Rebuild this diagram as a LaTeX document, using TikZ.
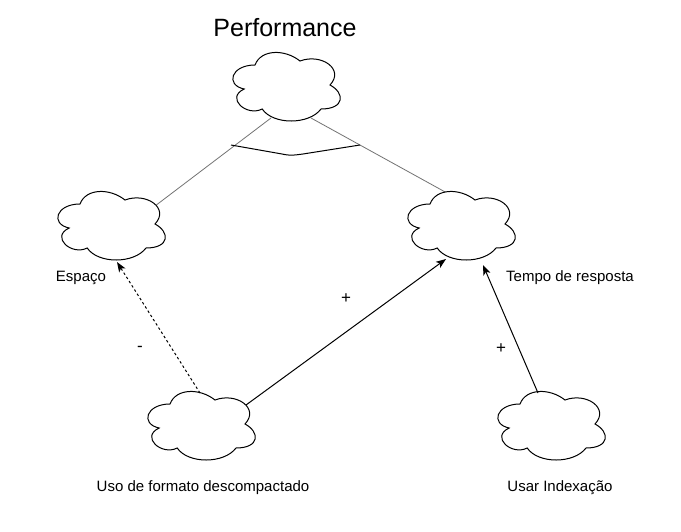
\documentclass[tikz,border=0pt]{standalone}
\usepackage{fontspec}
\setmainfont{Liberation Sans}
\usetikzlibrary{arrows.meta,calc}
\tikzset{
  cloudcell/.style={rectangle, minimum width=120pt, minimum height=80pt, inner sep=0pt},
  cloudline/.style={draw=black, line width=1pt, fill=white},
  lbl/.style={inner sep=0pt, font=\fontsize{15}{18}\selectfont, text=black},
  sgn/.style={inner sep=0pt, font=\fontsize{17}{20}\selectfont, text=black},
  title/.style={inner sep=0pt, font=\fontsize{25}{30}\selectfont, text=black},
  link/.style={draw=gray!90!black, line width=0.8pt},
  arr/.style={draw=black, line width=1pt, -{Stealth[length=10pt,width=7.5pt,inset=2.5pt]}},
  darr/.style={arr, dash pattern=on 2.5pt off 2.5pt},
}
\newcommand{\mycloud}[3]{%
  \begin{scope}[shift={(#2,#3)}, x=120pt, y=-80pt]
    \path[cloudline] (0.25,0.25) .. controls (0.05,0.25) and (0,0.5) .. (0.16,0.55)
      .. controls (0,0.66) and (0.18,0.9) .. (0.31,0.8)
      .. controls (0.4,1) and (0.7,1) .. (0.8,0.8)
      .. controls (1,0.8) and (1,0.6) .. (0.875,0.5)
      .. controls (1,0.3) and (0.8,0.1) .. (0.625,0.2)
      .. controls (0.5,0.05) and (0.3,0.05) .. (0.25,0.25) -- cycle;
  \end{scope}}
\begin{document}
\begin{tikzpicture}[x=1pt,y=-1pt]
\useasboundingbox[fill=white] (0,0) rectangle (681,531);
\node[cloudcell] (top) at (285,85) {};
\node[cloudcell] (esp) at (110,224) {};
\node[cloudcell] (tmp) at (460,224) {};
\node[cloudcell] (uso) at (200,424) {};
\node[cloudcell] (idx) at (550,424) {};
\draw[link] ([shift={(-14,33)}]top.center) -- ([shift={(45,-18)}]esp.center);
\draw[link] ([shift={(26,33)}]top.center) -- ([shift={(-13,-31)}]tmp.center);
\coordinate (andl) at ([shift={(-54,60)}]top.center);
\coordinate (andr) at ([shift={(75,60)}]top.center);
\draw[draw=black, line width=1pt] (andl) -- ([shift={(-3,69)}]top.center)
  .. controls ([shift={(6,71)}]top.center) and ([shift={(10,70)}]top.center) .. ([shift={(18,69)}]top.center) -- (andr);
\mycloud{top}{225}{45}
\mycloud{esp}{50}{184}
\mycloud{tmp}{400}{184}
\mycloud{uso}{140}{384}
\mycloud{idx}{490}{384}
\draw[darr] ([shift={(0,-31)}]uso.center) -- ([shift={(7,38)}]esp.center);
\draw[arr] ([shift={(46,-19)}]uso.center) -- ([shift={(-14,35)}]tmp.center);
\draw[arr] ([shift={(-12,-31)}]idx.center) -- ([shift={(23,41)}]tmp.center);
\node[title, anchor=base] (ttl) at (285,36.7) {Performance};
\node[lbl, anchor=base] (lesp) at (81,281) {Espaço};
\node[lbl, anchor=base] (ltmp) at (570,281) {Tempo de resposta};
\node[lbl, anchor=base] (luso) at (203,491) {Uso de formato descompactado};
\node[lbl, anchor=base] (lidx) at (560,491) {Usar Indexação};
\node[sgn] (p1) at (346,299) {+};
\node[sgn] (m1) at (140,349) {-};
\node[sgn] (p2) at (501,349) {+};
\end{tikzpicture}
\end{document}
